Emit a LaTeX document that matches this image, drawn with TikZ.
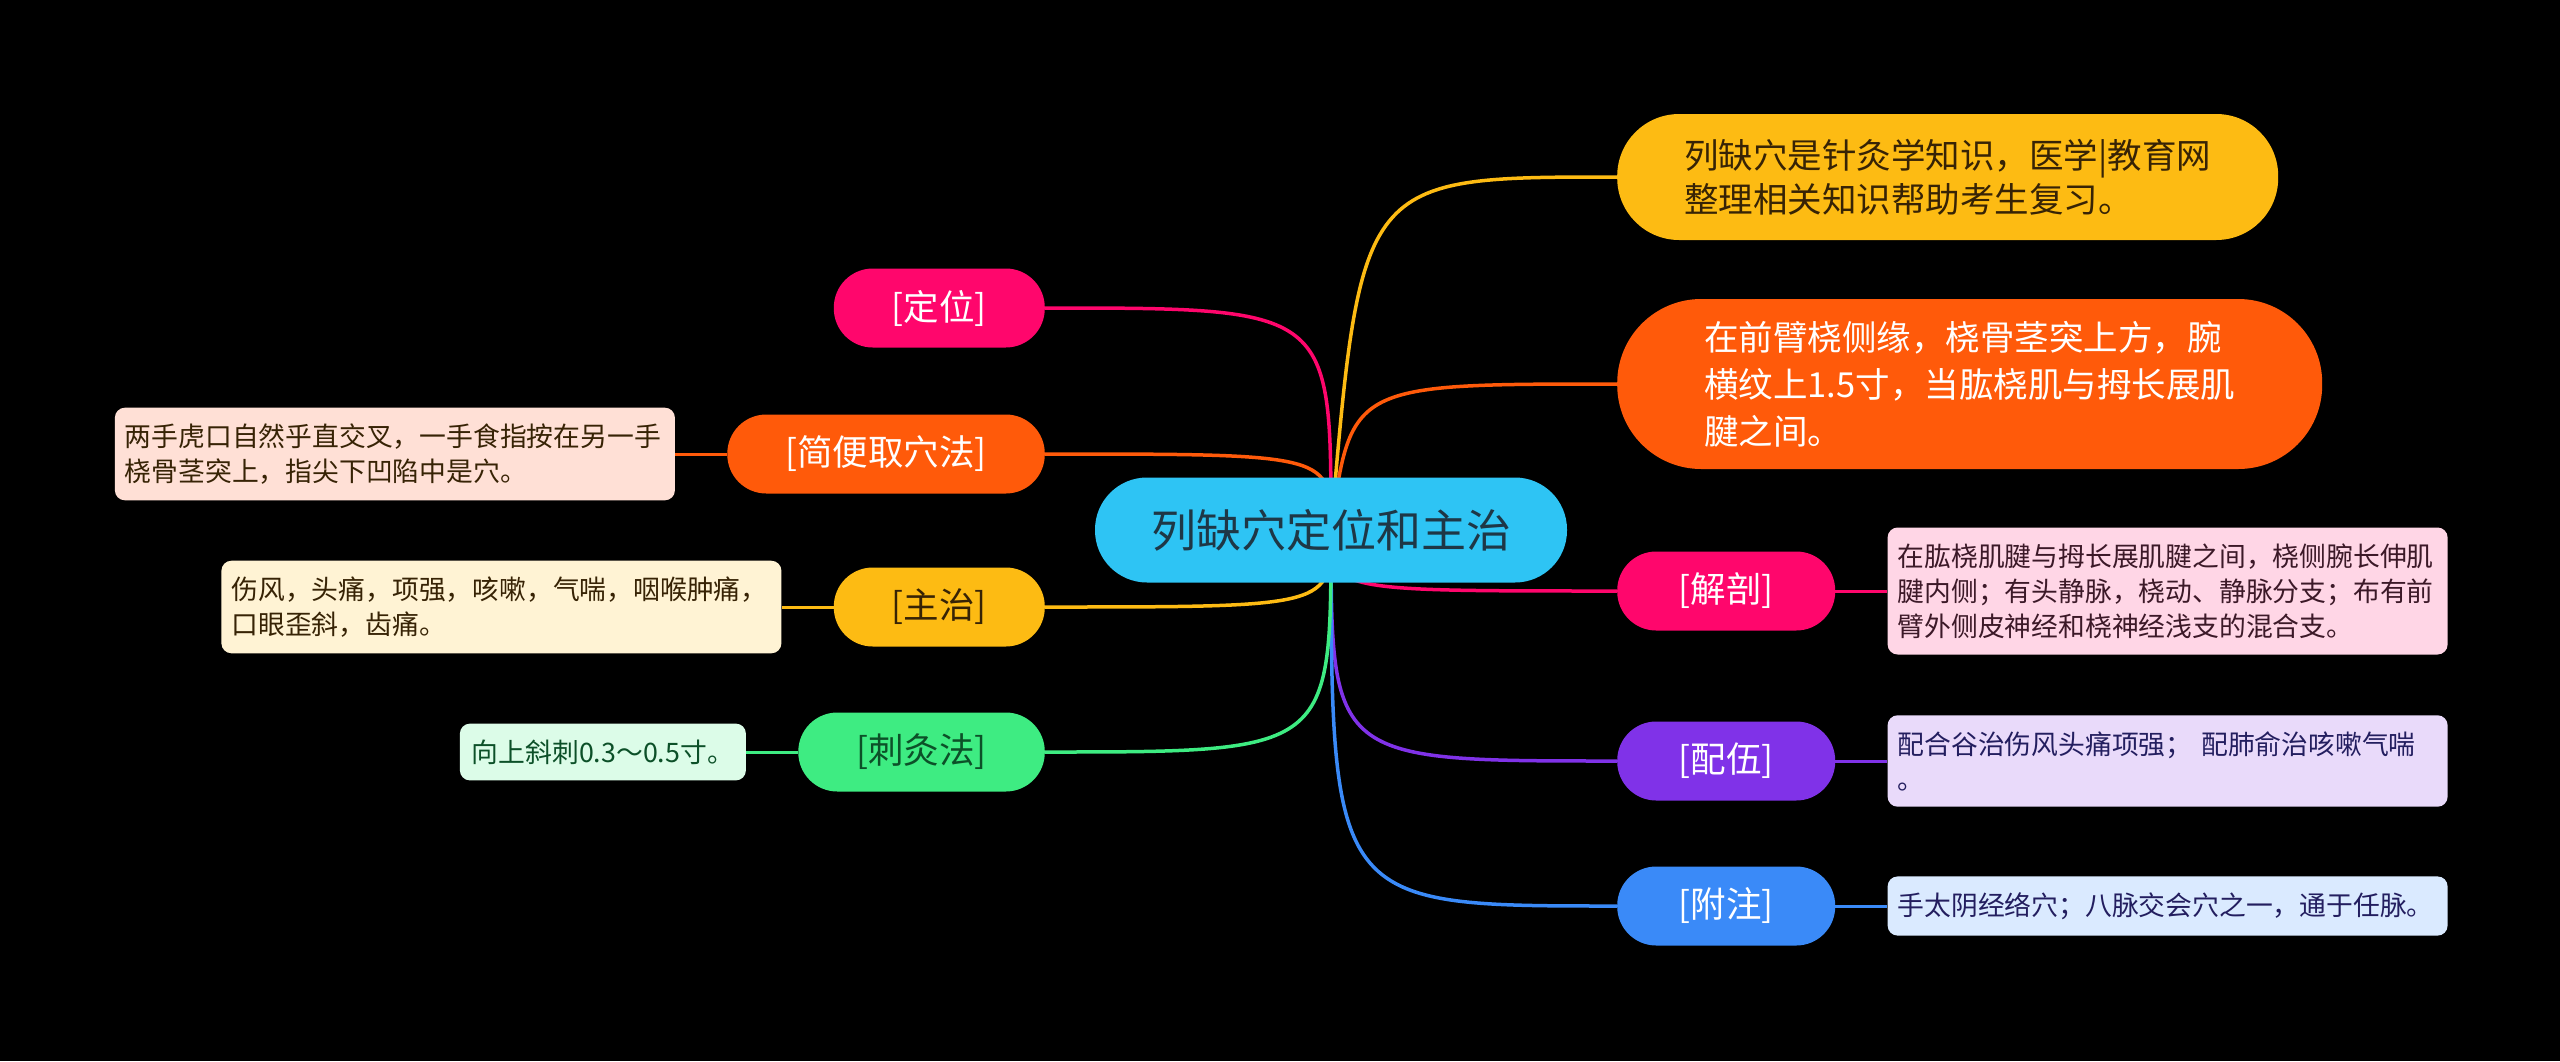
\documentclass[tikz,border=0pt]{standalone}
\usepackage{fontspec}
\setmainfont{Noto Sans CJK SC}
\usepackage{xcolor}
\usetikzlibrary{positioning, backgrounds}
\definecolor{cRoot}{RGB}{46,196,244}
\definecolor{cRootTxt}{RGB}{30,55,70}
\definecolor{cPink}{RGB}{255,6,108}
\definecolor{cOrange}{RGB}{255,90,10}
\definecolor{cYellow}{RGB}{253,187,19}
\definecolor{cGreen}{RGB}{62,236,130}
\definecolor{cPurple}{RGB}{128,50,232}
\definecolor{cBlue}{RGB}{58,138,248}
\definecolor{cPinkBg}{RGB}{255,214,230}
\definecolor{cPeachBg}{RGB}{255,224,214}
\definecolor{cCreamBg}{RGB}{255,243,212}
\definecolor{cMintBg}{RGB}{220,252,232}
\definecolor{cLilacBg}{RGB}{233,218,250}
\definecolor{cSkyBg}{RGB}{218,234,255}
\definecolor{cDarkBrown}{RGB}{55,35,5}
\definecolor{cDarkGreen}{RGB}{12,80,40}
\definecolor{cDarkRose}{RGB}{60,25,40}
\definecolor{cNavy}{RGB}{35,30,95}
\tikzset{
	root/.style ={rectangle, rounded corners=52pt, fill=cRoot, text=cRootTxt, minimum height=105pt, inner xsep=56pt, font=\fontsize{45}{54}\selectfont},
	topic/.style={rectangle, rounded corners=39pt, minimum height=79pt, inner xsep=58pt, text=white, font=\fontsize{35.5}{42}\selectfont},
	info/.style ={rectangle, align=left, text=white, font=\fontsize{34.5}{44}\selectfont},
	% detail boxes
	note/.style ={rectangle, rounded corners=10pt, align=left, text width=540pt, inner xsep=10pt, inner ysep=16pt, font=\fontsize{26.8}{35}\selectfont},
	branch/.style={line width=3.5pt},
	twig/.style ={line width=3pt},
}
\begin{document}
\begin{tikzpicture}[x=1pt, y=-1pt, node distance=52pt]
			\useasboundingbox (0,0) rectangle (2560,1061);
			\node[root] (root) at (1331,530) {列缺穴定位和主治};
			\node[info, anchor=west, fill=cYellow, text=cDarkBrown, rounded corners=62pt, minimum width=661pt, minimum height=126pt] (intro) at (1617,177) {列缺穴是针灸学知识，医学|教育网\\整理相关知识帮助考生复习。};
			\node[info, anchor=west, fill=cOrange, rounded corners=84pt, minimum width=705pt, minimum height=170pt, font=\fontsize{34.5}{47}\selectfont] (loc) at (1617,384) {在前臂桡侧缘，桡骨茎突上方，腕\\横纹上1.5寸，当肱桡肌与拇长展肌\\腱之间。};
			\node[topic, anchor=west, fill=cPink, minimum width=218pt] (jp) at (1617,591) {[解剖]};
			\node[topic, anchor=west, fill=cPurple, minimum width=218pt] (pw) at (1617,761) {[配伍]};
			\node[topic, anchor=west, fill=cBlue, minimum width=218pt] (fz) at (1617,906) {[附注]};
			\node[note, right=of jp, fill=cPinkBg, text=cDarkRose] (jpx) {在肱桡肌腱与拇长展肌腱之间，桡侧腕长伸肌\\腱内侧；有头静脉，桡动、静脉分支；布有前\\臂外侧皮神经和桡神经浅支的混合支。};
			\node[note, right=of pw, fill=cLilacBg, text=cNavy] (pwx) {配合谷治伤风头痛项强； 配肺俞治咳嗽气喘\\。};
			\node[note, right=of fz, fill=cSkyBg, text=cNavy] (fzx) {手太阴经络穴；八脉交会穴之一，通于任脉。};
			\node[topic, anchor=east, fill=cPink] (dw) at (1045,308) {[定位]};
			\node[topic, anchor=east, fill=cOrange] (jb) at (1045,454) {[简便取穴法]};
			\node[topic, anchor=east, fill=cYellow, text=cDarkBrown] (zz) at (1045,607) {[主治]};
			\node[topic, anchor=east, fill=cGreen, text=cDarkGreen] (cj) at (1045,752) {[刺灸法]};
			\node[note, left=of jb, fill=cPeachBg, text=cDarkBrown] (jbx) {两手虎口自然乎直交叉，一手食指按在另一手\\桡骨茎突上，指尖下凹陷中是穴。};
			\node[note, left=of zz, fill=cCreamBg, text=cDarkBrown] (zzx) {伤风，头痛，项强，咳嗽，气喘，咽喉肿痛，\\口眼歪斜，齿痛。};
			\node[note, left=of cj, text width=, inner xsep=12pt, fill=cMintBg, text=cDarkGreen] (cjx) {向上斜刺0.3～0.5寸。};
			\begin{scope}[on background layer]
				\fill[black] (0,0) rectangle (2560,1061);
				\draw[branch, cYellow] (root.center) .. controls ([xshift=30pt]root.center |- intro.west) .. (intro.west);
				\draw[branch, cOrange] (root.center) .. controls ([xshift=20pt]root.center |- loc.west) .. (loc.west);
				\draw[branch, cPink] (root.center) .. controls (root.center |- jp.west) .. (jp.west);
				\draw[branch, cPurple] (root.center) .. controls (root.center |- pw.west) .. (pw.west);
				\draw[branch, cBlue] (root.center) .. controls (root.center |- fz.west) .. (fz.west);
				\draw[branch, cPink] (root.center) .. controls (root.center |- dw.east) .. (dw.east);
				\draw[branch, cOrange] (root.center) .. controls (root.center |- jb.east) .. (jb.east);
				\draw[branch, cYellow] (root.center) .. controls (root.center |- zz.east) .. (zz.east);
				\draw[branch, cGreen] (root.center) .. controls (root.center |- cj.east) .. (cj.east);
			\end{scope}
			\draw[twig, cPink] (jp) -- (jpx);
			\draw[twig, cPurple] (pw) -- (pwx);
			\draw[twig, cBlue] (fz) -- (fzx);
			\draw[twig, cOrange] (jb) -- (jbx);
			\draw[twig, cYellow] (zz) -- (zzx);
			\draw[twig, cGreen] (cj) -- (cjx);
		\end{tikzpicture}
\end{document}
